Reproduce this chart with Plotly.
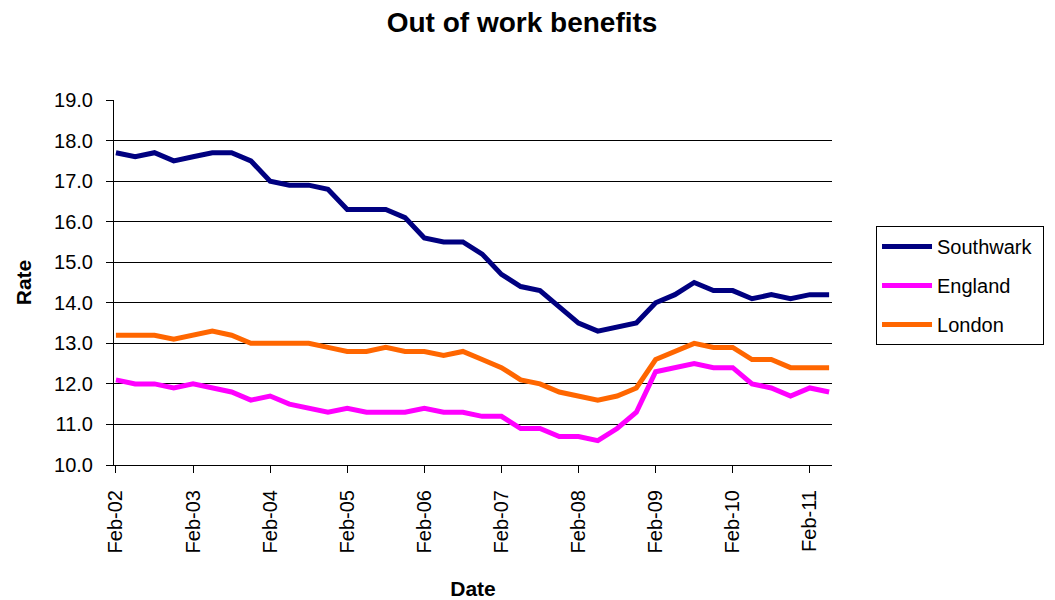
import plotly.graph_objects as go

dates = ["Feb-02","May-02","Aug-02","Nov-02","Feb-03","May-03","Aug-03","Nov-03",
         "Feb-04","May-04","Aug-04","Nov-04","Feb-05","May-05","Aug-05","Nov-05",
         "Feb-06","May-06","Aug-06","Nov-06","Feb-07","May-07","Aug-07","Nov-07",
         "Feb-08","May-08","Aug-08","Nov-08","Feb-09","May-09","Aug-09","Nov-09",
         "Feb-10","May-10","Aug-10","Nov-10","Feb-11","May-11"]

southwark = [17.7,17.6,17.7,17.5,17.6,17.7,17.7,17.5,17.0,16.9,16.9,16.8,16.3,16.3,16.3,16.1,
             15.6,15.5,15.5,15.2,14.7,14.4,14.3,13.9,13.5,13.3,13.4,13.5,14.0,14.2,14.5,14.3,
             14.3,14.1,14.2,14.1,14.2,14.2]
england = [12.1,12.0,12.0,11.9,12.0,11.9,11.8,11.6,11.7,11.5,11.4,11.3,11.4,11.3,11.3,11.3,
           11.4,11.3,11.3,11.2,11.2,10.9,10.9,10.7,10.7,10.6,10.9,11.3,12.3,12.4,12.5,12.4,
           12.4,12.0,11.9,11.7,11.9,11.8]
london = [13.2,13.2,13.2,13.1,13.2,13.3,13.2,13.0,13.0,13.0,13.0,12.9,12.8,12.8,12.9,12.8,
          12.8,12.7,12.8,12.6,12.4,12.1,12.0,11.8,11.7,11.6,11.7,11.9,12.6,12.8,13.0,12.9,
          12.9,12.6,12.6,12.4,12.4,12.4]

tick_labels = ["Feb-02","Feb-03","Feb-04","Feb-05","Feb-06","Feb-07","Feb-08","Feb-09","Feb-10","Feb-11"]
y_ticks = [10,11,12,13,14,15,16,17,18,19]

series = [("Southwark", southwark, "#000080"),
          ("England", england, "#FF00FF"),
          ("London", london, "#FF6600")]

NB = "\u00a0"

fig = go.Figure()
for name, vals, col in series:
    fig.add_trace(go.Scatter(x=dates, y=vals, mode="lines", name=name + NB,
                             legendgroup=name,
                             line=dict(color=col, width=5)))

font = "Liberation Sans, Arial, sans-serif"
fig.update_layout(
    width=1047, height=592,
    paper_bgcolor="white", plot_bgcolor="white",
    margin=dict(l=106, r=223, t=92, b=135, autoexpand=False),
    title=dict(text="<b>Out of work benefits</b>", x=0.491, xanchor="center",
               y=0.976, yanchor="middle", font=dict(family=font, size=28, color="black")),
    font=dict(family=font, size=20, color="black"),
    legend=dict(x=1.0613, xanchor="left", y=0.655, yanchor="top",
                bordercolor="black", borderwidth=1, bgcolor="white",
                font=dict(family=font, size=20, color="black"),
                itemwidth=50, tracegroupgap=10),
    showlegend=True,
)
fig.update_xaxes(type="category", categoryorder="array", categoryarray=dates,
                 tickvals=tick_labels, ticktext=tick_labels, tickangle=-90,
                 ticklabelstandoff=9, automargin=False,
                 range=[-0.1, 37.15],
                 showline=True, linecolor="black", linewidth=1,
                 ticks="outside", ticklen=7, tickcolor="black",
                 showgrid=False, zeroline=False,
                 tickfont=dict(family=font, size=20),
                 title=dict(text="<b>Date</b>", font=dict(family=font, size=21), standoff=35))
fig.update_yaxes(range=[10, 19], tickvals=y_ticks, tickformat=".1f",
                 ticklabelstandoff=9, automargin=False,
                 showline=True, linecolor="black", linewidth=1,
                 ticks="outside", ticklen=7, tickcolor="black",
                 showgrid=True, gridcolor="black", gridwidth=1, zeroline=False,
                 tickfont=dict(family=font, size=20),
                 title=dict(text="<b>Rate</b>", font=dict(family=font, size=21), standoff=16))
fig.write_html("out.html")
